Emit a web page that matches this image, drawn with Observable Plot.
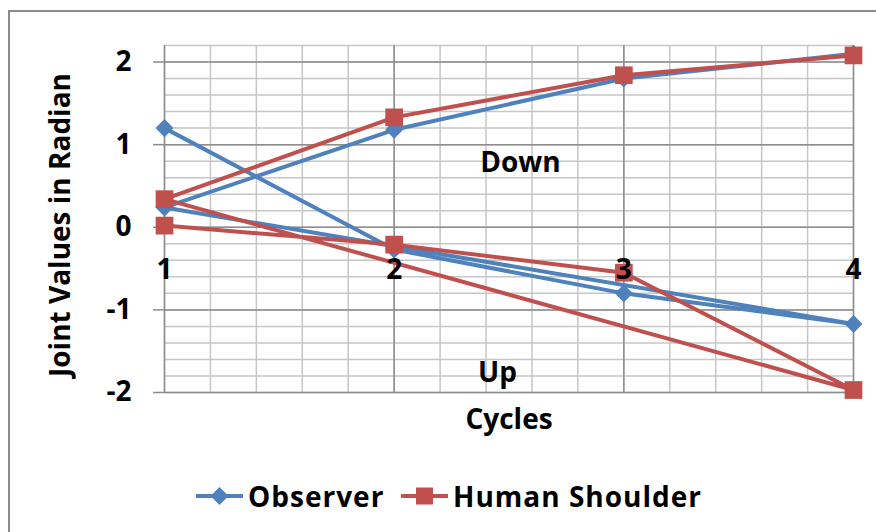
<!DOCTYPE html>
<html><head><meta charset="utf-8">
<script src="https://cdn.jsdelivr.net/npm/d3@7"></script>
<script src="https://cdn.jsdelivr.net/npm/@observablehq/plot@0.6"></script>
<style>
body{margin:0;background:#fff;width:876px;height:532px;overflow:hidden;position:relative;font-family:"Open Sans",sans-serif;font-weight:700;}
#border{position:absolute;left:8px;top:10px;width:900px;height:600px;border-left:2px solid #8a8a8a;border-top:2px solid #8a8a8a;box-sizing:border-box;}
#chart{position:absolute;left:0;top:0;}
.item{position:absolute;top:476px;height:40px;line-height:40px;display:flex;align-items:center;font-size:28px;color:#000;white-space:nowrap;letter-spacing:1px;}
.item svg{display:block;}
.item span{margin-left:5px;}
</style></head><body>
<div id="border"></div>
<div id="chart"></div>
<div id="legend"></div>
<script>
// Data (each series is one polyline of 8 points)
const cycles = [1, 2, 3, 4, 1, 2, 3, 4];
const observer = [1.20, -0.27, -0.80, -1.17, 0.24, 1.18, 1.80, 2.10];
const shoulder = [0.02, -0.21, -0.55, -1.97, 0.34, 1.33, 1.84, 2.08];
const seriesNames = ["Observer", "Human Shoulder"];
const colors = ["#4F81BD", "#C0504D"];
const xTickLabels = [1, 2, 3, 4];
const yTickLabels = [-2, -1, 0, 1, 2];
const noteText = ["Down", "Up"];
const noteX = [2.55, 2.45];
const noteY = [0.78, -1.77];
const xTitle = "Cycles";
const yTitle = "Joint Values in Radian";

const obs = cycles.map((c, i) => ({x: c, y: observer[i]}));
const sh = cycles.map((c, i) => ({x: c, y: shoulder[i]}));
const notes = noteText.map((t, i) => ({x: noteX[i], y: noteY[i], text: t}));

const diamond = {draw(ctx, size) {
  const r = Math.sqrt(size / 2);
  ctx.moveTo(0, -r); ctx.lineTo(r, 0); ctx.lineTo(0, r); ctx.lineTo(-r, 0); ctx.closePath();
}};

const minorColor = "#c6c6c6";
const majorColor = "#8c8c8c";

const chart = Plot.plot({
  width: 876, height: 450,
  marginLeft: 164, marginRight: 23, marginTop: 45, marginBottom: 58,
  x: {domain: [1, 4], axis: null},
  y: {domain: [-2, 2.2]},
  style: {fontFamily: '"Open Sans", sans-serif', fontWeight: 700, fontSize: "28px", color: "#000", background: "transparent"},
  marks: [
    Plot.gridX({interval: 0.2, stroke: minorColor, strokeOpacity: 1, strokeWidth: 1.5}),
    Plot.gridY({interval: 0.2, stroke: minorColor, strokeOpacity: 1, strokeWidth: 1.5}),
    Plot.gridX({ticks: xTickLabels, stroke: majorColor, strokeOpacity: 1, strokeWidth: 1.5}),
    Plot.gridY({ticks: yTickLabels, stroke: majorColor, strokeOpacity: 1, strokeWidth: 1.5}),
    Plot.axisY({ticks: yTickLabels, tickSize: 11, tickPadding: 22, stroke: majorColor, strokeWidth: 1.5, fill: "#000", tickFormat: d => String(d), label: null}),
    Plot.line(obs, {x: "x", y: "y", stroke: colors[0], strokeWidth: 4, strokeLinejoin: "round"}),
    Plot.dot(obs, {x: "x", y: "y", symbol: diamond, r: 7.2, fill: colors[0]}),
    Plot.line(sh, {x: "x", y: "y", stroke: colors[1], strokeWidth: 4, strokeLinejoin: "round"}),
    Plot.dot(sh, {x: "x", y: "y", symbol: "square", r: 10, fill: colors[1]}),
    Plot.text(xTickLabels, {x: d => d, frameAnchor: "bottom", dy: -122, lineAnchor: "middle", text: d => String(d), fill: "#000"}),
    Plot.text(notes, {x: "x", y: "y", text: "text", fill: "#000", lineAnchor: "middle"}),
    Plot.text([xTitle], {frameAnchor: "bottom", dy: 28, lineAnchor: "middle", text: d => d, fill: "#000"}),
    Plot.text([yTitle], {frameAnchor: "left", rotate: -90, dx: -103, dy: 6, textAnchor: "middle", lineAnchor: "middle", text: d => d, fill: "#000"})
  ]
});
document.getElementById("chart").appendChild(chart);

// Legend
const legend = document.getElementById("legend");
const legendLeft = [196, 401];
seriesNames.forEach((name, i) => {
  const item = document.createElement("div");
  item.className = "item";
  item.style.left = legendLeft[i] + "px";
  const marker = i === 0
    ? `<path d="M23.5,1 L32.5,10 L23.5,19 L14.5,10 Z" fill="${colors[0]}"/>`
    : `<rect x="15" y="1.5" width="17" height="17" fill="${colors[1]}"/>`;
  item.innerHTML = `<svg width="47" height="20"><line x1="0" x2="47" y1="10" y2="10" stroke="${colors[i]}" stroke-width="4"/>${marker}</svg><span>${name}</span>`;
  legend.appendChild(item);
});
</script>
</body></html>
